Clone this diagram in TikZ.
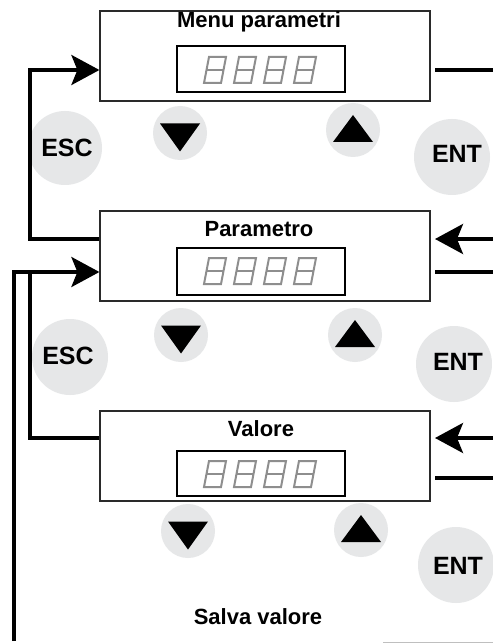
\documentclass[tikz,border=0pt]{standalone}
\usepackage{fontspec}
\setmainfont{Liberation Sans}
\usetikzlibrary{arrows.meta}
\definecolor{btncol}{HTML}{E6E7E8}
\definecolor{segcol}{HTML}{8E8E8E}
\definecolor{framecol}{HTML}{2A2A2A}
\tikzset{
  bigtip/.tip={Stealth[length=28pt,width=30pt,inset=6pt]},
}
\begin{document}
\begin{tikzpicture}[x=1pt,y=-1pt,
  panel/.style={draw=framecol, line width=1.2pt, fill=white, minimum width=330pt, minimum height=90pt, inner sep=0pt},
  lcd/.style={draw=black, line width=1.2pt, minimum width=168pt, inner sep=0pt},
  conn/.style={line width=3.5pt, black, line join=miter},
  arr/.style={-bigtip},
  btn/.style={circle, fill=btncol, inner sep=0pt},
  title/.style={font=\fontsize{22}{26}\selectfont\bfseries, anchor=base, inner sep=0pt},
  keylabel/.style={font=\fontsize{25}{30}\selectfont\bfseries, anchor=base, inner sep=0pt},
  segline/.style={draw=segcol, line width=2pt, line join=miter},
  digit/.pic={\draw[segline] (5,0) -- (22,0) -- (17,26) -- (0,26) -- cycle;
              \draw[segline] (2.5,13) -- (19.5,13);},
]
\fill[white] (0,0) rectangle (492,644);
\useasboundingbox (0,0) rectangle (492,644);

% ---- buttons row 1
\node[btn, minimum size=74pt] (esc1) at (65,148) {};
\node[btn, minimum size=54pt] (dn1) at (180,133) {};
\node[btn, minimum size=54pt] (up1) at (353,130) {};
\node[btn, minimum size=76pt] (ent1) at (452,157) {};
\node[keylabel] (esc1t) at (67,157) {ESC};
\node[keylabel] (ent1t) at (457,163) {ENT};
\fill[shift={(dn1)}] (-20,-9.5) -- (20,-9.5) -- (0,18.5) -- cycle;
\fill[shift={(up1)}] (-20,12) -- (20,12) -- (0,-15) -- cycle;

% ---- buttons row 2
\node[btn, minimum size=76pt] (esc2) at (70,357) {};
\node[btn, minimum size=54pt] (dn2) at (181,335) {};
\node[btn, minimum size=54pt] (up2) at (355,335) {};
\node[btn, minimum size=76pt] (ent2) at (454,364) {};
\node[keylabel] (esc2t) at (68,364) {ESC};
\node[keylabel] (ent2t) at (458,370) {ENT};
\fill[shift={(dn2)}] (-20,-9.5) -- (20,-9.5) -- (0,18.5) -- cycle;
\fill[shift={(up2)}] (-20,12) -- (20,12) -- (0,-15) -- cycle;

% ---- buttons row 3
\node[btn, minimum size=54pt] (dn3) at (188,531) {};
\node[btn, minimum size=54pt] (up3) at (361,530) {};
\node[btn, minimum size=76pt] (ent3) at (456,565) {};
\node[keylabel] (ent3t) at (458,574) {ENT};
\fill[shift={(dn3)}] (-20,-9.5) -- (20,-9.5) -- (0,18.5) -- cycle;
\fill[shift={(up3)}] (-20,12) -- (20,12) -- (0,-15) -- cycle;

% ---- panels
\node[panel] (b1) at (265,56) {};
\node[lcd, minimum height=46pt] (d1) at (261,69) {};
\node[title] (t1) at (259,27.5) {Menu parametri};
\foreach \i in {0,1,2,3} \pic at ({204+30*\i},57) {digit};

\node[panel] (b2) at (265,256) {};
\node[lcd, minimum height=47pt] (d2) at (261,271.5) {};
\node[title] (t2) at (259,236) {Parametro};
\foreach \i in {0,1,2,3} \pic at ({204+30*\i},258) {digit};

\node[panel] (b3) at (265,456) {};
\node[lcd, minimum height=45pt] (d3) at (261,473.5) {};
\node[title] (t3) at (261,436) {Valore};
\foreach \i in {0,1,2,3} \pic at ({204+30*\i},461) {digit};

\node[title] (save) at (258,624) {Salva valore};

% ---- connectors
\coordinate (a1) at (30,239);
\coordinate (a2) at (30,70);
\draw[conn,arr] (b2.west |- a1) -- (a1) -- (a2) -- (b1.west |- a2);

\coordinate (r1a) at (435,70);  \coordinate (r1b) at (496,70);
\draw[conn] (r1a) -- (r1b);
\coordinate (r2a) at (496,239); \coordinate (r2b) at (435,239);
\draw[conn,arr] (r2a) -- (r2b);
\coordinate (r3a) at (435,272); \coordinate (r3b) at (496,272);
\draw[conn] (r3a) -- (r3b);

\coordinate (c1) at (30,438);
\coordinate (c2) at (30,273.5);
\draw[conn] (b3.west |- c1) -- (c1) -- (c2);
\coordinate (o1) at (14,641);
\coordinate (o2) at (14,272);
\draw[conn,arr] (o1) -- (o2) -- (b2.west |- o2);

\coordinate (r4a) at (496,438); \coordinate (r4b) at (435,438);
\draw[conn,arr] (r4a) -- (r4b);
\coordinate (r5a) at (435,478); \coordinate (r5b) at (496,478);
\draw[conn] (r5a) -- (r5b);

\coordinate (g1) at (383,642.5); \coordinate (g2) at (496,642.5);
\draw[line width=1.5pt, black!25] (g1) -- (g2);
\end{tikzpicture}
\end{document}
